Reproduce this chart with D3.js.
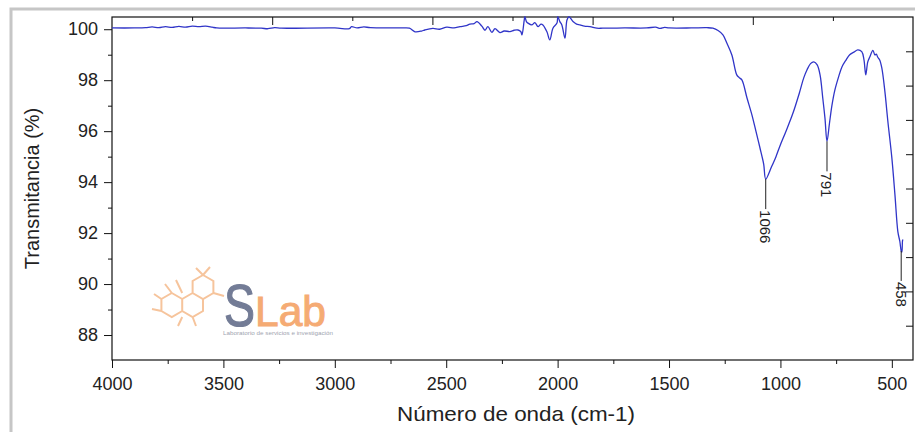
<!DOCTYPE html>
<html>
<head>
<meta charset="utf-8">
<script src="https://cdn.jsdelivr.net/npm/d3@7"></script>
<style>
  body { margin: 0; background: #fff; }
  svg { display: block; font-family: "Liberation Sans", Arial, sans-serif; }
  .tick text { fill: #222; }
</style>
</head>
<body>
<div id="vis"></div>
<script>
var w = 915,
    h = 432,
    x0 = 112, x1 = 913, y0 = 17, y1 = 360; // plot frame edges

// FTIR spectrum
var wavenumber = [4000, 3900, 3850, 3820, 3790, 3760, 3730, 3700, 3670, 3640, 3610, 3580, 3550, 3530,
  3400, 3330, 3300, 3270, 3240, 3000, 2935, 2925, 2900, 2870, 2840, 2700, 2665, 2640, 2610, 2596,
  2560, 2530, 2497, 2465, 2438, 2410, 2394, 2375, 2362, 2340, 2326, 2313, 2295, 2281, 2259, 2240,
  2214, 2195, 2178, 2165, 2160, 2150, 2147, 2140, 2133, 2115, 2102, 2088, 2075, 2066, 2048, 2035,
  2021, 2003, 1999, 1990, 1981, 1967, 1958, 1949, 1931, 1915, 1900, 1880, 1855, 1824, 1797, 1700,
  1600, 1560, 1540, 1520, 1500, 1400, 1330, 1303, 1280, 1258, 1240, 1218, 1196, 1185, 1173, 1150,
  1128, 1110, 1092, 1075, 1066, 1040, 1020, 1003, 975, 944, 915, 895, 881, 865, 850, 835, 822, 810,
  800, 791, 780, 769, 756, 740, 724, 705, 689, 670, 653, 635, 625, 617, 608, 599, 585, 576, 570, 563,
  555, 545, 531, 518, 500, 486, 473, 464, 458, 455, 452, 450];
var transmitance = [100.05, 100.05, 100.06, 100.09, 100.06, 100.1, 100.07, 100.11, 100.08, 100.12, 100.1, 100.12, 100.08, 100.05,
  100.05, 100.04, 100.02, 100.06, 100.04, 100.05, 100.02, 100.1, 100.05, 100.09, 100.06, 100.05, 100.04, 99.9, 99.93, 99.97,
  100.03, 100.0, 100.08, 100.05, 100.1, 100.14, 100.2, 100.22, 100.3, 100.12, 99.96, 100.1, 99.88, 100.02, 99.87, 99.93,
  99.91, 99.96, 99.97, 99.9, 99.78, 100.35, 100.49, 100.3, 100.24, 100.17, 100.26, 100.1, 100.2, 100.17, 99.9, 99.58,
  100.04, 100.24, 100.49, 100.3, 100.17, 99.65, 100.36, 100.49, 100.3, 100.2, 100.17, 100.12, 100.1, 100.04, 100.04, 100.05,
  100.05, 100.08, 100.03, 100.07, 100.05, 100.05, 100.06, 100.04, 99.95, 99.78, 99.45, 98.99, 98.21, 98.1, 98.01, 97.3,
  96.64, 96.0, 95.35, 94.7, 94.12, 94.6, 95.0, 95.4, 96.0, 96.7, 97.5, 98.1, 98.4, 98.65, 98.72, 98.6, 98.2, 97.3,
  96.5, 95.6, 96.3, 97.0, 97.6, 98.1, 98.52, 98.8, 99.0, 99.1, 99.19, 99.12, 98.8, 98.21, 98.72, 98.91, 99.17, 98.99, 99.02, 98.9,
  98.8, 98.48, 97.54, 96.4, 94.96, 93.5, 92.06, 91.67, 91.3, 91.25, 91.7, 91.75];

var peaks = [1066, 791, 458];
var peakT = [94.12, 95.6, 91.3];

var xTicks = [4000, 3500, 3000, 2500, 2000, 1500, 1000, 500];
var xMinor = [3750, 3250, 2750, 2250, 1750, 1250, 750];
var yTicks = [88, 90, 92, 94, 96, 98, 100];
var yMinor = [89, 91, 93, 95, 97, 99];

var x = d3.scaleLinear().domain([4000, 405]).range([x0, x1]),
    y = d3.scaleLinear().domain([87.02, 100.48]).range([y1, y0]),
    xTop = d3.scaleLinear().domain([0, 10]).range([x0, x1]),
    yRight = d3.scaleLinear().domain([0, 10]).range([y0, y1]);

var svg = d3.select("#vis").append("svg")
    .attr("width", w)
    .attr("height", h);

// outer grey frame
svg.append("rect")
    .attr("x", 11).attr("y", 9)
    .attr("width", w + 20).attr("height", h + 20)
    .attr("fill", "none")
    .attr("stroke", "#c6c6c6")
    .attr("stroke-width", 3);

// logo
var logo = svg.append("g").attr("class", "logo");
var hexCenters = [[203, 287], [192.6, 305], [171.8, 305]];
var hexPath = d3.path();
hexCenters.forEach(function(c) {
  for (var k = 0; k <= 6; k++) {
    var a = (-90 + 60 * k) * Math.PI / 180,
        px = c[0] + 12 * Math.cos(a), py = c[1] + 12 * Math.sin(a);
    if (k === 0) hexPath.moveTo(px, py); else hexPath.lineTo(px, py);
  }
});
// substituent bonds
[[203, 275, 210, 267], [203, 275, 196, 268], [213.4, 293, 224, 296], [171.8, 293, 165, 284],
 [161.4, 311, 152, 309], [161.4, 299, 154, 294], [182.2, 317, 178, 326], [192.6, 317, 196, 326],
 [182.2, 293, 176, 280]].forEach(function(b) {
  hexPath.moveTo(b[0], b[1]); hexPath.lineTo(b[2], b[3]);
});
logo.append("path")
    .attr("d", hexPath.toString())
    .attr("fill", "none")
    .attr("stroke", "#f6c49c")
    .attr("stroke-width", 2);
logo.append("text")
    .attr("x", 224).attr("y", 326)
    .attr("font-size", 60)
    .attr("textLength", 31).attr("lengthAdjust", "spacingAndGlyphs")
    .attr("fill", "#737c96")
    .attr("stroke", "#737c96").attr("stroke-width", 1.2)
    .text("S");
logo.append("text")
    .attr("x", 255).attr("y", 326)
    .attr("font-size", 42)
    .attr("textLength", 71).attr("lengthAdjust", "spacingAndGlyphs")
    .attr("fill", "#f5ab74")
    .attr("stroke", "#f5ab74").attr("stroke-width", 1)
    .text("Lab");
logo.append("text")
    .attr("x", 223).attr("y", 335)
    .attr("font-size", 5)
    .attr("textLength", 110).attr("lengthAdjust", "spacingAndGlyphs")
    .attr("fill", "#a0a4b0")
    .text("Laboratorio de servicios e investigación");

// axes
var xAxis = svg.append("g")
    .attr("transform", "translate(0," + y1 + ")")
    .call(d3.axisBottom(x).tickValues(xTicks).tickSize(8).tickPadding(9).tickFormat(d3.format("d")));
svg.append("g")
    .attr("transform", "translate(0," + y1 + ")")
    .call(d3.axisBottom(x).tickValues(xMinor).tickSize(4).tickFormat(""));
var yAxis = svg.append("g")
    .attr("transform", "translate(" + x0 + ",0)")
    .call(d3.axisLeft(y).tickValues(yTicks).tickSize(8).tickPadding(6));
svg.append("g")
    .attr("transform", "translate(" + x0 + ",0)")
    .call(d3.axisLeft(y).tickValues(yMinor).tickSize(4).tickFormat(""));
svg.append("g")
    .attr("transform", "translate(0," + y0 + ")")
    .call(d3.axisTop(xTop).tickValues([1, 3, 5, 7, 9]).tickSize(-4).tickFormat(""));
svg.append("g")
    .attr("transform", "translate(0," + y0 + ")")
    .call(d3.axisTop(xTop).tickValues([2, 4, 6, 8]).tickSize(-8).tickFormat(""));
svg.append("g")
    .attr("transform", "translate(" + x1 + ",0)")
    .call(d3.axisRight(yRight).tickValues([1, 2, 3, 4, 5, 6, 7, 8, 9]).tickSize(-7).tickFormat(""));

svg.selectAll(".domain").remove();
svg.selectAll(".tick line").attr("stroke", "#111");
xAxis.selectAll("text").attr("font-size", 18);
yAxis.selectAll("text").attr("font-size", 18);

// plot frame
svg.append("rect")
    .attr("x", x0).attr("y", y0)
    .attr("width", x1 - x0).attr("height", y1 - y0)
    .attr("fill", "none")
    .attr("stroke", "#111")
    .attr("stroke-width", 1.2);

// spectrum
var line = d3.line()
    .x(function(d, i) { return x(wavenumber[i]); })
    .y(function(d) { return y(d); })
    .curve(d3.curveCatmullRom.alpha(0.5));

svg.append("path")
    .datum(transmitance)
    .attr("d", line)
    .attr("fill", "none")
    .attr("stroke", "#3035c8")
    .attr("stroke-width", 1.3);

// peak labels
var ann = svg.append("g").selectAll("g")
    .data(peaks)
  .enter().append("g");
ann.append("line")
    .attr("x1", function(d) { return x(d); })
    .attr("x2", function(d) { return x(d); })
    .attr("y1", function(d, i) { return y(peakT[i]); })
    .attr("y2", function(d, i) { return y(peakT[i]) + 30; })
    .attr("stroke", "#222");
ann.append("text")
    .attr("transform", function(d, i) {
      return "translate(" + x(d) + "," + (y(peakT[i]) + 31) + ") rotate(90)";
    })
    .attr("dominant-baseline", "central")
    .attr("font-size", 15)
    .attr("fill", "#222")
    .text(function(d) { return d; });

// titles
svg.append("text")
    .attr("x", 516)
    .attr("y", 421)
    .attr("text-anchor", "middle")
    .attr("font-size", 21)
    .attr("textLength", 238).attr("lengthAdjust", "spacingAndGlyphs")
    .attr("fill", "#222")
    .text("Número de onda (cm-1)");
svg.append("text")
    .attr("transform", "translate(39," + (y0 + y1) / 2 + ") rotate(-90)")
    .attr("text-anchor", "middle")
    .attr("font-size", 20)
    .attr("fill", "#222")
    .text("Transmitancia (%)");
</script>
</body>
</html>
